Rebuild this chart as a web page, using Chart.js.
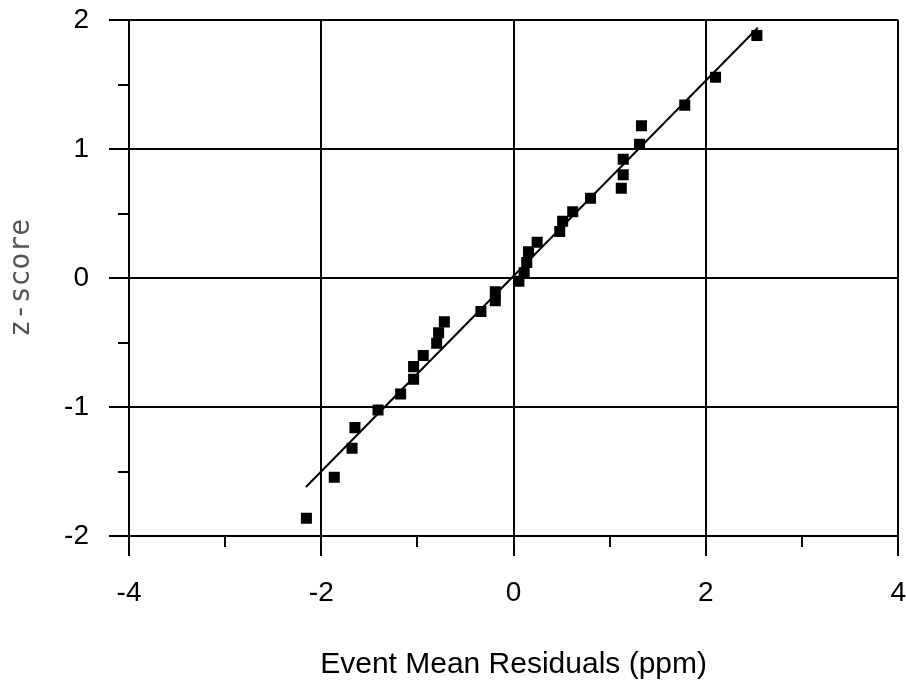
<!DOCTYPE html>
<html>
<head>
<meta charset="utf-8">
<script src="https://cdn.jsdelivr.net/npm/chart.js@4/dist/chart.umd.min.js"></script>
<style>
  html, body { margin: 0; padding: 0; background: #fff; }
  #wrap { width: 906px; height: 683px; }
</style>
</head>
<body>
<div id="wrap"><canvas id="qq"></canvas></div>
<script>
    // residuals (ppm) vs z-score
    const residuals = [-2.155, -1.865, -1.68, -1.65, -1.41, -1.175, -1.04, -1.04, -0.94, -0.80, -0.78, -0.72,
        -0.34, -0.19, -0.19, 0.055, 0.11, 0.137, 0.155, 0.245, 0.48, 0.51, 0.615, 0.80,
        1.12, 1.14, 1.14, 1.31, 1.33, 1.78, 2.10, 2.53];
    const zScores = [-1.863, -1.545, -1.32, -1.16, -1.023, -0.90, -0.785, -0.687, -0.60, -0.506, -0.424, -0.34,
        -0.26, -0.176, -0.106, -0.026, 0.04, 0.12, 0.204, 0.277, 0.36, 0.44, 0.514, 0.618,
        0.695, 0.80, 0.92, 1.036, 1.18, 1.34, 1.556, 1.88];

    // fitted line end points
    const fitX = [-2.16, 2.54];
    const fitY = [-1.62, 1.94];

    const xMinor = [-3, -1, 1, 3];
    const yMinor = [-1.5, -0.5, 0.5, 1.5];

    const minorTicks = {
        id: 'minorTicks',
        afterDraw(c) {
            const ctx = c.ctx;
            const xs = c.scales.x, ys = c.scales.y;
            const area = c.chartArea;
            ctx.save();
            ctx.strokeStyle = '#000';
            ctx.lineWidth = 2;
            ctx.beginPath();
            xMinor.forEach(v => {
                const px = Math.round(xs.getPixelForValue(v));
                ctx.moveTo(px, area.bottom);
                ctx.lineTo(px, area.bottom + 11);
            });
            yMinor.forEach(v => {
                const py = Math.round(ys.getPixelForValue(v));
                ctx.moveTo(area.left, py);
                ctx.lineTo(area.left - 11, py);
            });
            ctx.stroke();
            ctx.restore();
        }
    };

    const ctx = document.getElementById('qq').getContext('2d');
    const chart = new Chart(ctx, {
        type: 'scatter',
        data: {
            datasets: [{
                label: 'fit',
                type: 'line',
                data: fitX.map((x, i) => ({ x: x, y: fitY[i] })),
                borderColor: '#000',
                borderWidth: 2,
                pointRadius: 0,
                fill: false
            }, {
                label: 'events',
                data: residuals.map((x, i) => ({ x: x, y: zScores[i] })),
                pointStyle: 'rect',
                pointRadius: 7.8,
                pointBorderWidth: 0,
                backgroundColor: '#000',
                borderColor: '#000'
            }]
        },
        options: {
            responsive: true,
            maintainAspectRatio: false,
            animation: false,
            layout: { padding: { top: 20, right: 3, left: 0, bottom: 0 } },
            plugins: { legend: { display: false }, tooltip: { enabled: false } },
            scales: {
                x: {
                    type: 'linear',
                    min: -4,
                    max: 4,
                    ticks: {
                        stepSize: 2,
                        color: '#000',
                        padding: 20,
                        font: { family: 'Liberation Sans', size: 28 }
                    },
                    grid: { color: '#000', lineWidth: 2, tickLength: 20 },
                    border: { color: '#000', width: 2 },
                    title: {
                        display: true,
                        text: 'Event Mean Residuals (ppm)',
                        color: '#000',
                        padding: { top: 20, bottom: 0 },
                        font: { family: 'Liberation Sans', size: 30 }
                    },
                    afterFit(s) {
                        s.height = 147;
                        s.paddingLeft = 0;
                        s.paddingRight = 0;
                    }
                },
                y: {
                    type: 'linear',
                    min: -2,
                    max: 2,
                    ticks: {
                        stepSize: 1,
                        color: '#000',
                        padding: 20,
                        font: { family: 'Liberation Sans', size: 28 }
                    },
                    grid: { color: '#000', lineWidth: 2, tickLength: 20 },
                    border: { color: '#000', width: 2 },
                    title: {
                        display: true,
                        text: 'z-score',
                        color: '#555',
                        padding: { top: 5, bottom: 0 },
                        font: { family: 'DejaVu Sans Mono', size: 28 }
                    },
                    afterFit(s) {
                        s.width = 129;
                        s.paddingTop = 0;
                        s.paddingBottom = 0;
                    }
                }
            }
        },
        plugins: [minorTicks]
    });
</script>
</body>
</html>
